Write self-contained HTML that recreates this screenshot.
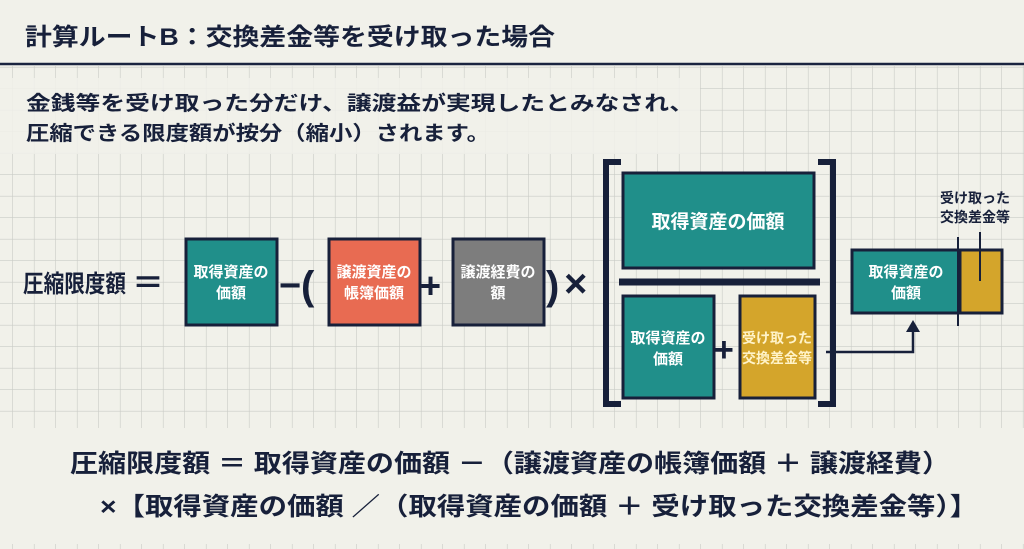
<!DOCTYPE html>
<html><head><meta charset="utf-8"><style>
html,body{margin:0;padding:0;background:#f1f1ea;}
svg{display:block;font-family:"Liberation Sans","Noto Sans CJK JP",sans-serif;font-weight:bold;}
</style></head><body>
<svg width="1024" height="549" viewBox="0 0 1024 549" xmlns="http://www.w3.org/2000/svg">
<defs>
<pattern id="g" x="13" y="3" width="21.5" height="21.5" patternUnits="userSpaceOnUse">
<path d="M21.5 0V21.5M0 21.5H21.5" stroke="#c9cbc6" stroke-width="1.2" fill="none"/>
</pattern>
</defs>
<rect width="1024" height="549" fill="#f1f1ea"/>
<rect y="66" width="1024" height="483" fill="url(#g)"/>
<rect x="0" y="78" width="700" height="76" fill="#f1f1ea" opacity="0.85"/>
<rect x="0" y="428" width="1024" height="116" fill="#f1f1ea"/>
<line x1="0" y1="64" x2="1024" y2="64" stroke="#1a2440" stroke-width="2.5"/>
<g fill="#17203a">
<text x="25" y="45" font-size="24" textLength="530" lengthAdjust="spacingAndGlyphs">計算ルートB：交換差金等を受け取った場合</text>
<text x="26" y="110" font-size="20" textLength="668" lengthAdjust="spacingAndGlyphs">金銭等を受け取った分だけ、譲渡益が実現したとみなされ、</text>
<text x="26" y="140" font-size="20" textLength="464" lengthAdjust="spacingAndGlyphs">圧縮できる限度額が按分（縮小）されます。</text>
<text x="23" y="292" font-size="24" textLength="103" lengthAdjust="spacingAndGlyphs">圧縮限度額</text>
<text x="132" y="294" font-size="32">＝</text>
<text x="279" y="298" font-size="38">−</text>
<text x="301" y="299" font-size="40">(</text>
<text x="420" y="298" font-size="36">+</text>
<text x="546" y="299" font-size="40">)</text>
<text x="564" y="297" font-size="40">×</text>
<text x="714" y="361" font-size="34">+</text>
</g>
<g stroke="#17203a" stroke-width="3">
<rect x="186" y="239" width="91" height="86" fill="#208f8a"/>
<rect x="329" y="239" width="91" height="86" fill="#e86b52"/>
<rect x="453" y="239" width="91" height="86" fill="#7d7d7d"/>
<rect x="623" y="173" width="191" height="95" fill="#208f8a"/>
<rect x="623" y="296" width="91" height="102" fill="#208f8a"/>
<rect x="740" y="296" width="75" height="102" fill="#d4a52b"/>
<rect x="852" y="250" width="108" height="63" fill="#208f8a"/>
<rect x="960" y="250" width="42" height="63" fill="#d4a52b"/>
</g>
<g stroke="#17203a" fill="none">
<path d="M621 162H606V404H621" stroke-width="6"/>
<path d="M818 162H833V404H818" stroke-width="6"/>
<line x1="619" y1="282" x2="820" y2="282" stroke-width="7"/>
<path d="M826 352H913V330" stroke-width="2.5"/>
<line x1="958" y1="237" x2="958" y2="326" stroke-width="2"/>
<line x1="980" y1="232" x2="980" y2="281" stroke-width="2"/>
</g>
<path d="M906 332L913 320L920 332Z" fill="#17203a"/>
<g fill="#fff" font-size="15" text-anchor="middle">
<text x="231" y="277">取得資産の</text><text x="231" y="298">価額</text>
<text x="374" y="277">譲渡資産の</text><text x="374" y="298">帳簿価額</text>
<text x="498" y="277">譲渡経費の</text><text x="498" y="298">額</text>
<text x="718" y="228" font-size="19">取得資産の価額</text>
<text x="668" y="343">取得資産の</text><text x="668" y="364">価額</text>
<text x="906" y="277">取得資産の</text><text x="906" y="298">価額</text>
</g>
<g fill="#fff3c8" font-size="14" text-anchor="middle">
<text x="777" y="343">受け取った</text><text x="777" y="363">交換差金等</text>
</g>
<g fill="#17203a" font-size="14" text-anchor="middle">
<text x="975" y="203">受け取った</text><text x="975" y="222">交換差金等</text>
</g>
<g fill="#17203a" font-size="25">
<text x="70" y="472" textLength="880" lengthAdjust="spacingAndGlyphs">圧縮限度額 ＝ 取得資産の価額 －（譲渡資産の帳簿価額 ＋ 譲渡経費）</text>
<text x="100" y="515" textLength="878" lengthAdjust="spacingAndGlyphs">×【取得資産の価額 ／（取得資産の価額 ＋ 受け取った交換差金等）】</text>
</g>
</svg>
</body></html>
